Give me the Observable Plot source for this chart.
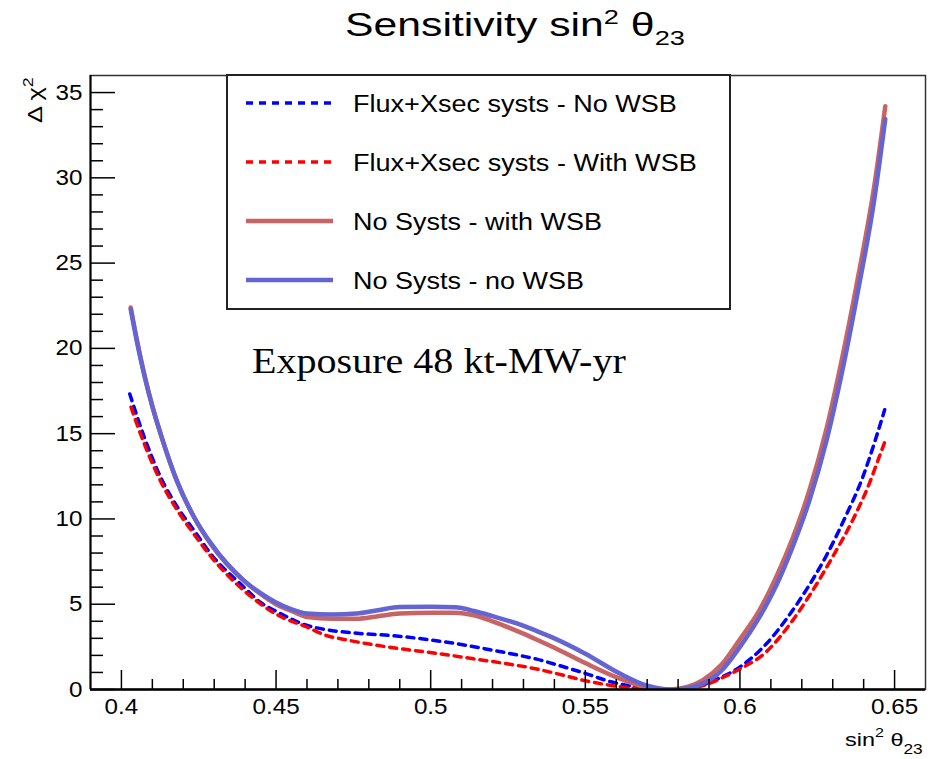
<!DOCTYPE html>
<html><head><meta charset="utf-8">
<script src="https://cdn.jsdelivr.net/npm/d3@7"></script>
<script src="https://cdn.jsdelivr.net/npm/@observablehq/plot@0.6"></script>
<style>
body{margin:0;background:#fff;}
#chart{width:937px;height:759px;}
</style></head><body><div id="chart"></div>
<script>
// ---- data ----
const seriesNames = ["Flux+Xsec systs - No WSB","Flux+Xsec systs - With WSB","No Systs - with WSB","No Systs - no WSB"];

const xFluxNoWSB = [0.4027,0.4074,0.4127,0.4181,0.4235,0.4289,0.4396,0.445,0.4504,0.4601,0.4665,0.4762,0.488,0.4998,0.5085,0.5192,0.5289,0.5343,0.5396,0.5504,0.5579,0.5611,0.5697,0.5775,0.5859,0.5925,0.5985,0.6084,0.6149,0.6213,0.6278,0.6343,0.6396,0.6439,0.6468];
const yFluxNoWSB = [17.33,14.79,12.44,10.69,9.32,7.95,6.0,5.1,4.55,3.75,3.5,3.3,3.15,2.91,2.68,2.33,1.99,1.78,1.51,0.92,0.47,0.33,0.06,0,0.16,0.6,1.15,2.65,4.1,5.8,7.8,10.2,12.4,14.7,16.4];

const xFluxWSB = [0.4031,0.4074,0.4127,0.4181,0.4235,0.4289,0.4396,0.4504,0.4601,0.4665,0.4708,0.4816,0.4923,0.5031,0.5138,0.5246,0.5343,0.5396,0.5504,0.5579,0.5611,0.570,0.5775,0.585,0.590,0.595,0.600,0.6084,0.617,0.6235,0.6299,0.6364,0.6418,0.645,0.6468];
const yFluxWSB = [16.55,14.4,12.2,10.5,9.1,7.8,5.8,4.38,3.65,3.15,2.98,2.62,2.34,2.09,1.8,1.51,1.2,0.98,0.5,0.25,0.17,0.03,0,0.1,0.35,0.75,1.2,2.19,4.04,5.8,7.76,9.91,12.06,13.62,14.5];

const xNoSystWSB = [0.403,0.405,0.4075,0.410,0.413,0.418,0.4235,0.429,0.4395,0.445,0.450,0.455,0.460,0.468,0.476,0.483,0.490,0.500,0.508,0.514,0.520,0.529,0.534,0.540,0.550,0.561,0.570,0.5775,0.583,0.588,0.594,0.600,0.606,0.612,0.617,0.6225,0.628,0.633,0.638,0.6435,0.647];
const yNoSystWSB = [22.4,20.5,18.4,16.6,14.8,12.2,10.1,8.5,6.4,5.6,5.0,4.6,4.25,4.15,4.15,4.3,4.45,4.5,4.5,4.35,4.0,3.35,2.95,2.45,1.55,0.65,0.12,0,0.15,0.55,1.45,2.95,4.55,6.7,8.85,11.7,15.3,19.4,24.0,29.6,34.2];

const xNoSystNoWSB = [0.403,0.405,0.4075,0.410,0.413,0.418,0.4235,0.429,0.4395,0.445,0.450,0.455,0.460,0.468,0.476,0.483,0.490,0.500,0.508,0.514,0.520,0.529,0.534,0.540,0.550,0.561,0.570,0.5775,0.583,0.588,0.594,0.600,0.606,0.612,0.617,0.6225,0.628,0.633,0.638,0.6435,0.647];
const yNoSystNoWSB = [22.3,20.4,18.35,16.6,14.8,12.2,10.1,8.55,6.4,5.65,5.1,4.7,4.45,4.4,4.45,4.65,4.83,4.85,4.82,4.6,4.3,3.8,3.45,3.0,2.1,0.95,0.22,0,0.08,0.35,1.1,2.5,4.15,6.2,8.35,11.1,14.6,18.6,23.2,28.8,33.45];

const xTicks = [0.4,0.45,0.5,0.55,0.6,0.65];
const xMinorTicks = [0.41,0.42,0.43,0.44,0.46,0.47,0.48,0.49,0.51,0.52,0.53,0.54,0.56,0.57,0.58,0.59,0.61,0.62,0.63,0.64];
const yTicks = [0,5,10,15,20,25,30,35];
const yMinorTicks = [1,2,3,4,6,7,8,9,11,12,13,14,16,17,18,19,21,22,23,24,26,27,28,29,31,32,33,34];
const xDomain = [0.39,0.66];
const yDomain = [0,36];

// ---- styles ----
const styles = [
  {color:"#0000ff", width:3.5, dash:"7,6"},
  {color:"#ff0000", width:3.5, dash:"7,6"},
  {color:"#c86464", width:4.5, dash:null},
  {color:"#6464d2", width:4.5, dash:null}
];
const xs = [xFluxNoWSB, xFluxWSB, xNoSystWSB, xNoSystNoWSB];
const ys = [yFluxNoWSB, yFluxWSB, yNoSystWSB, yNoSystNoWSB];
const series = seriesNames.map((name,i)=>({name, style:styles[i], rows: xs[i].map((x,j)=>({x, y: ys[i][j]}))}));

const sans = "'Liberation Sans', Arial, Helvetica, sans-serif";
const serif = "'Liberation Serif', 'Times New Roman', serif";

const W = 937, H = 759, mL = 90, mR = 12, mT = 75, mB = 70;
const frameW = W - mL - mR, frameH = H - mT - mB;

const plot = Plot.plot({
  width: W, height: H,
  marginLeft: mL, marginRight: mR, marginTop: mT, marginBottom: mB,
  style: {fontFamily: sans, fontSize: "22px", background: "white", color: "black"},
  x: {domain: xDomain, axis: null},
  y: {domain: yDomain, axis: null},
  marks: [
    Plot.frame({stroke: "#333", strokeWidth: 1.5}),
    ...series.map(s => Plot.line(s.rows, {x: "x", y: "y", stroke: s.style.color, strokeWidth: s.style.width,
      strokeDasharray: s.style.dash || undefined, curve: "monotone-x", clip: true})),
    Plot.tickX(xTicks, {x: d => d, stroke: "black", strokeWidth: 1.5, insetTop: frameH - 19}),
    Plot.tickX(xMinorTicks, {x: d => d, stroke: "black", strokeWidth: 1.5, insetTop: frameH - 10}),
    Plot.tickY(yTicks, {y: d => d, stroke: "black", strokeWidth: 1.5, insetRight: frameW - 25}),
    Plot.tickY(yMinorTicks, {y: d => d, stroke: "black", strokeWidth: 1.5, insetRight: frameW - 13}),
    Plot.ruleY([yDomain[0]], {stroke: "black", strokeWidth: 2.5}),
    Plot.ruleX([xDomain[0]], {stroke: "black", strokeWidth: 2}),
    Plot.axisX(xTicks, {tickSize: 0, tickPadding: 9, tickFormat: d => String(d), label: null, fontSize: 22}),
    Plot.axisY(yTicks, {tickSize: 0, tickPadding: 8, tickFormat: d => String(d), label: null, fontSize: 22})
  ]
});
document.getElementById("chart").appendChild(plot);

const svg = d3.select(plot);

// stretch axis tick labels slightly (reference text is horizontally wide)
svg.selectAll("g[aria-label$='tick label'] text").each(function(){
  const t = this.getAttribute("transform");
  if (t) this.setAttribute("transform", t + " scale(1.1,1)");
});

function place(sel, x, y, targetW, anchor, extra) {
  sel.attr("text-anchor", "start").attr("transform", null);
  const w = sel.node().getBBox().width;
  const k = targetW ? targetW / w : 1;
  const ww = w * k;
  const tx = anchor === "end" ? -ww : anchor === "middle" ? -ww/2 : 0;
  sel.attr("transform", `translate(${x},${y})${extra||""} translate(${tx},0) scale(${k},1)`);
}

// title
const title = svg.append("text").attr("font-family", sans).attr("font-size", 33).attr("fill","black");
title.append("tspan").text("Sensitivity sin");
title.append("tspan").attr("dy", -12).attr("font-size", 21).text("2");
title.append("tspan").attr("dy", 12).text(" \u03B8");
title.append("tspan").attr("dy", 9).attr("font-size", 21).text("23");
place(title, 345, 36, 340, "start");

// y axis label
const ylab = svg.append("text").attr("font-family", sans).attr("font-size", 20).attr("fill","black");
ylab.append("tspan").text("\u0394 \u03C7");
ylab.append("tspan").attr("dy", -9).attr("font-size", 14).text("2");
place(ylab, 42, 123, 46, "start", " rotate(-90)");

// x axis label
const xlab = svg.append("text").attr("font-family", sans).attr("font-size", 19).attr("fill","black");
xlab.append("tspan").text("sin");
xlab.append("tspan").attr("dy", -9).attr("font-size", 13).text("2");
xlab.append("tspan").attr("dy", 9).text(" \u03B8");
xlab.append("tspan").attr("dy", 8).attr("font-size", 14).text("23");
place(xlab, 923, 746, 78, "end");

// exposure annotation
const expo = svg.append("text").attr("font-family", serif).attr("font-size", 36).attr("fill","black").text("Exposure 48 kt-MW-yr");
place(expo, 252, 373, 374, "start");

// legend
const lg = svg.append("g");
lg.append("rect").attr("x", 227).attr("y", 75).attr("width", 503).attr("height", 234)
  .attr("fill", "white").attr("stroke", "#222").attr("stroke-width", 2);
const legendTextW = [324, 344, 249, 231];
series.forEach((s, i) => {
  const yy = 103 + i * 59;
  lg.append("line").attr("x1", 246).attr("x2", 333).attr("y1", yy).attr("y2", yy)
    .attr("stroke", s.style.color).attr("stroke-width", s.style.dash ? 3.5 : 4.5)
    .attr("stroke-dasharray", s.style.dash || null);
  const t = lg.append("text").attr("font-family", sans).attr("font-size", 24).attr("fill", "black").text(s.name);
  place(t, 353, yy + 9, legendTextW[i], "start");
});
</script></body></html>
